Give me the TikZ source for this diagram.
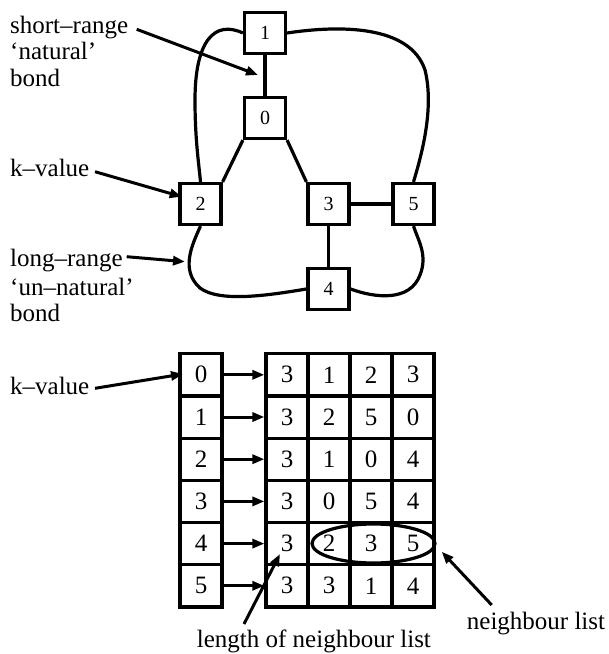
\documentclass[tikz,border=0pt]{standalone}
\usepackage{fontspec}
\setmainfont{Liberation Serif}
\usetikzlibrary{arrows.meta,shapes.geometric}

\begin{document}
\begin{tikzpicture}[x=1pt,y=-1pt,
  gbox/.style={draw,line width=3.2pt,minimum size=41pt,inner sep=0pt,font=\fontsize{20}{22}\selectfont},
  cell/.style={draw,line width=3.2pt,minimum width=42pt,minimum height=42.2pt,inner sep=0pt,font=\fontsize{25}{26}\selectfont},
  lbl/.style={anchor=base west,inner sep=0pt,font=\fontsize{25}{26}\selectfont},
  pointer/.style={line width=3pt,-{Triangle[length=12pt,width=9pt]}},
  bond/.style={line width=3.2pt}
]
\useasboundingbox (0,0) rectangle (609,654);

% ---- graph of sites ----
\node[gbox] (n1) at (265,33) {1};
\node[gbox] (n0) at (265,118) {0};
\node[gbox] (n2) at (200.5,204) {2};
\node[gbox] (n3) at (328.5,204) {3};
\node[gbox] (n5) at (413.5,204) {5};
\node[gbox] (n4) at (328.5,289) {4};

% short-range bonds
\draw[bond] (n1) -- (n0);
\draw[bond] (n0.south west) -- (n2.north east);
\draw[bond] (n0.south east) -- (n3.north west);
\draw[bond] (n3) -- (n5);
\draw[bond] (n3) -- (n4);

% long-range bonds
\draw[bond] (n1.west) .. controls (215,20) and (195,40) .. (195,100)
  .. controls (195,140) and (199,165) .. (n2.north);
\draw[bond] (n1.east) .. controls (340,25) and (410,25) .. (425,70)
  .. controls (435,110) and (420,160) .. (n5.north);
\draw[bond] (n2.south) .. controls (192,245) and (180,270) .. (200,288)
  .. controls (220,303) and (270,295) .. (n4.west);
\draw[bond] (n4.east) .. controls (375,298) and (410,302) .. (420,275)
  .. controls (428,255) and (418,240) .. (n5.south);

% labels of the graph
\node[lbl] (sr1) at (10,33.3) {short–range};
\node[lbl] (sr2) at (10,59.3) {‘natural’};
\node[lbl] (sr3) at (10,86) {bond};
\node[lbl] (kv1) at (10,176.7) {k–value};
\node[lbl] (lr1) at (10,266.7) {long–range};
\node[lbl] (lr2) at (10,295) {‘un–natural’};
\node[lbl] (lr3) at (10,321.7) {bond};

\coordinate (srTail) at (136.7,29.3);
\coordinate (srTip) at (258,75);
\coordinate (kvTail) at (95,171.7);
\coordinate (kvTip) at (181.7,196.7);
\coordinate (lrTail) at (126.7,256.7);
\coordinate (lrTip) at (185,261.7);
\draw[pointer] (srTail) -- (srTip);
\draw[pointer] (kvTail) -- (kvTip);
\draw[pointer] (lrTail) -- (lrTip);

% ---- k-values and neighbour lists ----
\foreach \k/\a/\b/\c/\d in {0/3/1/2/3,1/3/2/5/0,2/3/1/0/4,3/3/0/5/4,4/3/2/3/5,5/3/3/1/4}{
  \pgfmathsetmacro\yy{374.8+42.2*\k}
  \node[cell] (k\k) at (201,\yy) {\k};
  \node[cell] (g\k-a) at (287,\yy) {\a};
  \node[cell] (g\k-b) at (329,\yy) {\b};
  \node[cell] (g\k-c) at (371,\yy) {\c};
  \node[cell] (g\k-d) at (413,\yy) {\d};
  \draw[pointer] (k\k.east) -- (g\k-a.west);
}

\node[draw,ellipse,line width=3.2pt,minimum width=123pt,minimum height=39pt,inner sep=0pt] (nl) at (373.5,543.5) {};

\node[lbl] (kv2) at (10,394) {k–value};
\node[lbl] (len) at (196.7,647.5) {length of neighbour list};
\node[lbl] (nbl) at (466.7,629) {neighbour list};

\coordinate (kv2Tail) at (95,388.3);
\coordinate (kv2Tip) at (183,374);
\coordinate (lenTail) at (244,624);
\coordinate (lenTip) at (280,554);
\coordinate (nblTail) at (491.7,605);
\coordinate (nblTip) at (441.7,551.7);
\draw[pointer] (kv2Tail) -- (kv2Tip);
\draw[pointer] (lenTail) -- (lenTip);
\draw[pointer] (nblTail) -- (nblTip);
\end{tikzpicture}
\end{document}
